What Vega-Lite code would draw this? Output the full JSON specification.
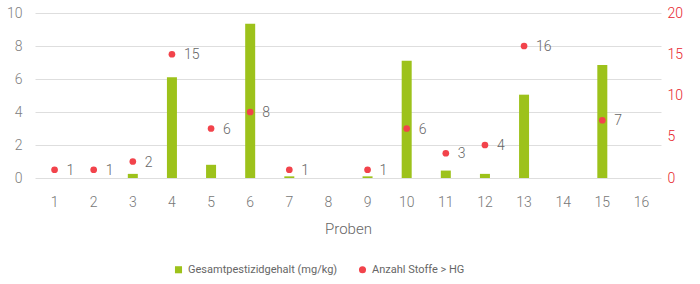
{
  "$schema": "https://vega.github.io/schema/vega-lite/v6.json",
  "width": 626,
  "height": 165,
  "autosize": {"type": "none"},
  "padding": {"left": 35, "top": 13, "right": 39, "bottom": 106},
  "background": "white",
  "config": {
    "view": {"stroke": null},
    "font": "Roboto",
    "axis": {"domain": false, "ticks": false, "labelFont": "Roboto", "labelFontSize": 14, "labelFontWeight": 300}
  },
  "data": {
    "values": [
      {"probe": 1, "gehalt": 0, "anzahl": 1},
      {"probe": 2, "gehalt": 0, "anzahl": 1},
      {"probe": 3, "gehalt": 0.25, "anzahl": 2},
      {"probe": 4, "gehalt": 6.1, "anzahl": 15},
      {"probe": 5, "gehalt": 0.8, "anzahl": 6},
      {"probe": 6, "gehalt": 9.35, "anzahl": 8},
      {"probe": 7, "gehalt": 0.1, "anzahl": 1},
      {"probe": 8, "gehalt": 0, "anzahl": null},
      {"probe": 9, "gehalt": 0.1, "anzahl": 1},
      {"probe": 10, "gehalt": 7.1, "anzahl": 6},
      {"probe": 11, "gehalt": 0.45, "anzahl": 3},
      {"probe": 12, "gehalt": 0.25, "anzahl": 4},
      {"probe": 13, "gehalt": 5.05, "anzahl": 16},
      {"probe": 14, "gehalt": 0, "anzahl": null},
      {"probe": 15, "gehalt": 6.85, "anzahl": 7},
      {"probe": 16, "gehalt": 0, "anzahl": null}
    ]
  },
  "encoding": {
    "x": {
      "field": "probe", "type": "ordinal",
      "scale": {"paddingInner": 0, "paddingOuter": 0},
      "axis": {"title": "Proben", "labelAngle": 0, "labelPadding": 17, "labelColor": "#777777", "titleColor": "#666666", "titleFontSize": 15, "titleFontWeight": 300, "titlePadding": 12, "grid": false}
    }
  },
  "layer": [
    {
      "mark": {"type": "bar", "width": 10},
      "encoding": {
        "y": {
          "field": "gehalt", "type": "quantitative",
          "scale": {"domain": [0, 10]},
          "axis": {"title": null, "values": [0, 2, 4, 6, 8, 10], "labelColor": "#808080", "labelPadding": 13, "grid": true, "gridColor": "#dedede"}
        },
        "color": {
          "datum": "Gesamtpestizidgehalt (mg/kg)",
          "scale": {"domain": ["Gesamtpestizidgehalt (mg/kg)", "Anzahl Stoffe > HG"], "range": ["#9dc21b", "#f2434b"]},
          "legend": {"title": null, "orient": "none", "direction": "horizontal", "legendX": 138, "legendY": 251, "labelFontSize": 11, "labelColor": "#666666", "labelFont": "Roboto", "labelLimit": 0, "symbolSize": 50, "columnPadding": 19, "labelOffset": 4}
        }
      }
    },
    {
      "transform": [{"filter": "datum.anzahl != null"}],
      "encoding": {
        "y": {
          "field": "anzahl", "type": "quantitative",
          "scale": {"domain": [0, 20]},
          "axis": {"orient": "right", "title": null, "values": [0, 5, 10, 15, 20], "labelColor": "#e8262e", "labelPadding": 6, "grid": false}
        }
      },
      "layer": [
        {
          "mark": {"type": "point", "filled": true, "opacity": 1, "size": 45},
          "encoding": {
            "color": {"datum": "Anzahl Stoffe > HG"},
            "shape": {"datum": "Anzahl Stoffe > HG", "scale": {"domain": ["Gesamtpestizidgehalt (mg/kg)", "Anzahl Stoffe > HG"], "range": ["square", "circle"]}, "legend": null}
          }
        },
        {
          "mark": {"type": "text", "align": "left", "dx": 12, "fontSize": 14, "fontWeight": 300, "color": "#666666", "baseline": "middle", "dy": 1},
          "encoding": {"text": {"field": "anzahl", "type": "quantitative"}}
        }
      ]
    }
  ],
  "resolve": {"scale": {"y": "independent"}}
}
